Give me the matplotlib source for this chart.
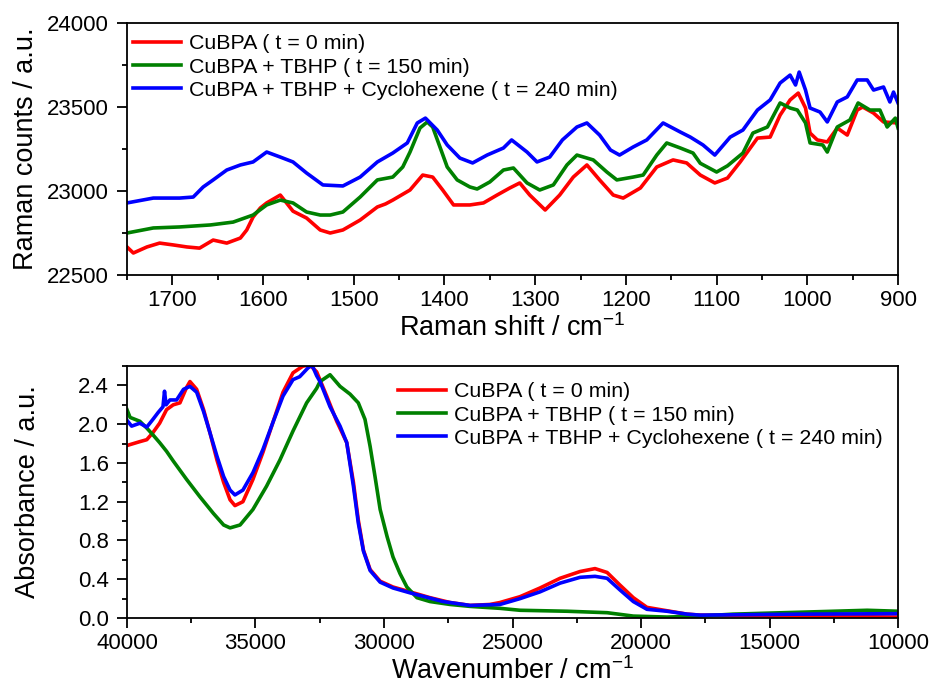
import matplotlib
matplotlib.use("Agg")
import matplotlib.pyplot as plt
from matplotlib.ticker import MultipleLocator

plt.rcParams['font.family'] = ['Liberation Sans', 'DejaVu Sans']
plt.rcParams['mathtext.fontset'] = 'custom'
plt.rcParams['mathtext.rm'] = 'Liberation Sans'
plt.rcParams['mathtext.it'] = 'Liberation Sans:italic'

# ---------------- Raman data ----------------
labels = ["CuBPA ( t = 0 min)", "CuBPA + TBHP ( t = 150 min)",
          "CuBPA + TBHP + Cyclohexene ( t = 240 min)"]
colors = ["#ff0000", "#008000", "#0000ff"]

raman_red_x = [1750, 1743, 1728, 1714, 1699, 1684, 1670, 1655, 1640, 1625, 1618, 1611, 1603, 1596,
               1581, 1567, 1552, 1537, 1526, 1512, 1493, 1474, 1465, 1457, 1438, 1424, 1413, 1402,
               1390, 1372, 1357, 1342, 1328, 1317, 1306, 1289, 1273, 1258, 1243, 1229, 1214, 1203,
               1184, 1166, 1148, 1133, 1118, 1102, 1088, 1074, 1055, 1041, 1030, 1019, 1010, 1002,
               997, 989, 978, 967, 956, 945, 939, 927, 916, 900]
raman_red_y = [22667, 22631, 22667, 22690, 22679, 22667, 22660, 22708, 22690, 22720, 22768, 22845, 22899, 22929,
               22976, 22880, 22839, 22768, 22750, 22768, 22827, 22905, 22923, 22946, 23006, 23095, 23083, 23006,
               22917, 22917, 22929, 22976, 23018, 23048, 22976, 22887, 22976, 23083, 23155, 23066, 22976, 22958,
               23018, 23143, 23185, 23167, 23095, 23048, 23077, 23173, 23315, 23321, 23452, 23542, 23583, 23494,
               23345, 23304, 23292, 23375, 23333, 23482, 23500, 23464, 23411, 23405]

raman_green_x = [1750, 1721, 1692, 1658, 1633, 1611, 1596, 1581, 1567, 1552, 1537, 1526, 1512, 1493,
                 1474, 1457, 1446, 1438, 1427, 1419, 1413, 1405, 1397, 1386, 1372, 1364, 1350, 1335,
                 1324, 1309, 1295, 1280, 1265, 1254, 1236, 1221, 1210, 1192, 1181, 1166, 1155, 1140,
                 1126, 1118, 1100, 1088, 1071, 1060, 1044, 1030, 1019, 1011, 1002, 997, 983, 978,
                 967, 953, 944, 931, 920, 912, 903, 900]
raman_green_y = [22750, 22780, 22786, 22798, 22815, 22857, 22917, 22946, 22929, 22875, 22857, 22857, 22875, 22964,
                 23066, 23083, 23143, 23232, 23375, 23411, 23381, 23262, 23143, 23066, 23024, 23012, 23054, 23125,
                 23137, 23048, 23006, 23036, 23155, 23214, 23185, 23113, 23066, 23083, 23095, 23214, 23286, 23256,
                 23226, 23165, 23113, 23150, 23226, 23345, 23381, 23524, 23494, 23482, 23405, 23286, 23274, 23232,
                 23381, 23423, 23524, 23482, 23482, 23381, 23434, 23375]

raman_blue_x = [1750, 1721, 1692, 1677, 1666, 1655, 1640, 1625, 1611, 1596, 1581, 1567, 1552, 1534,
                1512, 1493, 1474, 1457, 1441, 1430, 1421, 1408, 1397, 1383, 1369, 1353, 1335, 1326,
                1309, 1298, 1284, 1270, 1254, 1243, 1229, 1217, 1207, 1192, 1177, 1159, 1140, 1129,
                1115, 1102, 1085, 1071, 1055, 1041, 1030, 1019, 1013, 1009, 1002, 997, 986, 978,
                967, 956, 945, 934, 927, 916, 909, 905, 900]
raman_blue_y = [22929, 22958, 22958, 22964, 23024, 23066, 23125, 23155, 23173, 23232, 23202, 23173, 23107, 23036,
                23030, 23083, 23173, 23226, 23286, 23405, 23434, 23363, 23274, 23196, 23167, 23214, 23256, 23304,
                23232, 23173, 23202, 23304, 23381, 23405, 23333, 23244, 23214, 23262, 23304, 23405, 23351, 23321,
                23274, 23214, 23321, 23363, 23482, 23542, 23643, 23690, 23631, 23708, 23601, 23494, 23470, 23411,
                23530, 23560, 23661, 23661, 23601, 23619, 23530, 23589, 23524]

# ---------------- UV-vis data ----------------
uv_red_x = [40000, 39500, 39230, 39000, 38730, 38460, 38200, 37940, 37680, 37550, 37290, 37020, 36770,
            36500, 36240, 35990, 35800, 35490, 35100, 34710, 34320, 33930, 33540, 33150, 32880, 32620,
            32230, 31840, 31450, 31190, 31000, 30800, 30540, 30150, 29650, 28990, 28210, 27430, 26650,
            25880, 25490, 24710, 23930, 23150, 22370, 21790, 21320, 20820, 20300, 19770, 18990, 18210,
            17700, 15000, 12000, 10000]
uv_red_y = [1.78, 1.82, 1.84, 1.91, 2.01, 2.15, 2.20, 2.22, 2.38, 2.44, 2.36, 2.15, 1.91,
            1.63, 1.40, 1.22, 1.16, 1.20, 1.43, 1.71, 2.02, 2.33, 2.53, 2.60, 2.61, 2.54,
            2.29, 2.03, 1.81, 1.40, 1.01, 0.70, 0.50, 0.38, 0.32, 0.27, 0.21, 0.16, 0.13,
            0.14, 0.16, 0.22, 0.31, 0.41, 0.48, 0.51, 0.47, 0.34, 0.21, 0.11, 0.075, 0.04,
            0.03, 0.02, 0.015, 0.01]

uv_green_x = [40000, 39880, 39500, 39230, 38990, 38730, 38460, 38200, 37680, 37160, 36640, 36240, 35990,
              35600, 35100, 34570, 34050, 33540, 33010, 32620, 32490, 32100, 31710, 31320, 31000, 30740,
              30540, 30350, 30150, 29880, 29650, 29380, 29110, 28720, 28210, 27430, 26650, 25490, 24710,
              22880, 21320, 20300, 18990, 17700, 16420, 13800, 11200, 10000]
uv_green_y = [2.15, 2.07, 2.03, 1.96, 1.89, 1.81, 1.72, 1.62, 1.43, 1.25, 1.08, 0.96, 0.93,
              0.96, 1.12, 1.36, 1.63, 1.93, 2.22, 2.37, 2.44, 2.51, 2.39, 2.31, 2.22, 2.05,
              1.77, 1.46, 1.12, 0.84, 0.63, 0.46, 0.32, 0.21, 0.17, 0.14, 0.12, 0.10, 0.08,
              0.07, 0.055, 0.02, 0.01, 0.02, 0.04, 0.06, 0.08, 0.07]

uv_blue_x = [40000, 39820, 39500, 39230, 38990, 38790, 38600, 38540, 38480, 38330, 38070, 37800, 37550,
             37290, 37020, 36770, 36500, 36240, 35990, 35800, 35490, 35100, 34710, 34320, 33930, 33540,
             33280, 32960, 32800, 32620, 32490, 32100, 31710, 31450, 31190, 31000, 30800, 30540, 30150,
             29650, 28990, 27700, 26650, 25490, 24710, 23930, 23150, 22370, 21790, 21320, 20820, 20300,
             19770, 18990, 18210, 17700, 13800, 10000]
uv_blue_y = [2.04, 1.98, 2.01, 1.97, 2.05, 2.12, 2.18, 2.34, 2.20, 2.25, 2.25, 2.36, 2.39,
             2.33, 2.13, 1.91, 1.67, 1.46, 1.32, 1.27, 1.32, 1.50, 1.74, 2.02, 2.29, 2.46,
             2.49, 2.58, 2.61, 2.50, 2.44, 2.18, 1.98, 1.81, 1.36, 0.98, 0.69, 0.49, 0.37,
             0.31, 0.26, 0.17, 0.13, 0.14, 0.20, 0.27, 0.36, 0.42, 0.43, 0.41, 0.29, 0.17,
             0.09, 0.07, 0.04, 0.03, 0.04, 0.045]

fig = plt.figure(figsize=(9.31, 6.87), dpi=100)
ax1 = fig.add_axes([0.1364, 0.5997, 0.8282, 0.3668])
ax2 = fig.add_axes([0.1364, 0.1004, 0.8282, 0.3668])

lw = 2.6
for x, y, c, lab in [(raman_red_x, raman_red_y, colors[0], labels[0]),
                     (raman_green_x, raman_green_y, colors[1], labels[1]),
                     (raman_blue_x, raman_blue_y, colors[2], labels[2])]:
    ax1.plot(x, y, color=c, lw=lw, label=lab)

for x, y, c, lab in [(uv_red_x, uv_red_y, colors[0], labels[0]),
                     (uv_green_x, uv_green_y, colors[1], labels[1]),
                     (uv_blue_x, uv_blue_y, colors[2], labels[2])]:
    ax2.plot(x, y, color=c, lw=lw, label=lab)

ax1.set_xlim(1750, 900)
ax1.set_ylim(22500, 24000)
ax1.xaxis.set_major_locator(MultipleLocator(100))
ax1.xaxis.set_minor_locator(MultipleLocator(50))
ax1.yaxis.set_major_locator(MultipleLocator(500))
ax1.yaxis.set_minor_locator(MultipleLocator(250))

ax2.set_xlim(40000, 10000)
ax2.set_ylim(0, 2.6)
ax2.xaxis.set_major_locator(MultipleLocator(5000))
ax2.xaxis.set_minor_locator(MultipleLocator(2500))
ax2.yaxis.set_major_locator(MultipleLocator(0.4))
ax2.yaxis.set_minor_locator(MultipleLocator(0.2))
ax2.yaxis.set_major_formatter(matplotlib.ticker.FormatStrFormatter('%.1f'))

for ax in (ax1, ax2):
    for s in ax.spines.values():
        s.set_linewidth(1.3)
    ax.tick_params(which='major', direction='out', length=7, width=1.3, labelsize=16)
    ax.tick_params(which='minor', direction='out', length=3.8, width=1.3)
    ax.tick_params(axis='y', which='major', pad=6)
    ax.tick_params(axis='x', which='major', pad=4)

ax1.set_xlabel("Raman shift / cm$^{-1}$", fontsize=19.5, labelpad=2)
ax1.set_ylabel("Raman counts / a.u.", fontsize=19.5)
ax1.yaxis.set_label_coords(-0.114, 0.5)
ax2.set_xlabel("Wavenumber / cm$^{-1}$", fontsize=19.5, labelpad=2)
ax2.set_ylabel("Absorbance / a.u.", fontsize=19.5)
ax2.yaxis.set_label_coords(-0.1115, 0.5)

leg_kw = dict(frameon=False, fontsize=15.4, handlelength=2.25, handletextpad=0.35,
              labelspacing=0.2, borderpad=0, borderaxespad=0)
ax1.legend(loc='upper left', bbox_to_anchor=(0.008, 0.955), **leg_kw)
ax2.legend(loc='upper left', bbox_to_anchor=(0.3515, 0.935), **leg_kw)

fig.savefig("out.png", dpi=100)
